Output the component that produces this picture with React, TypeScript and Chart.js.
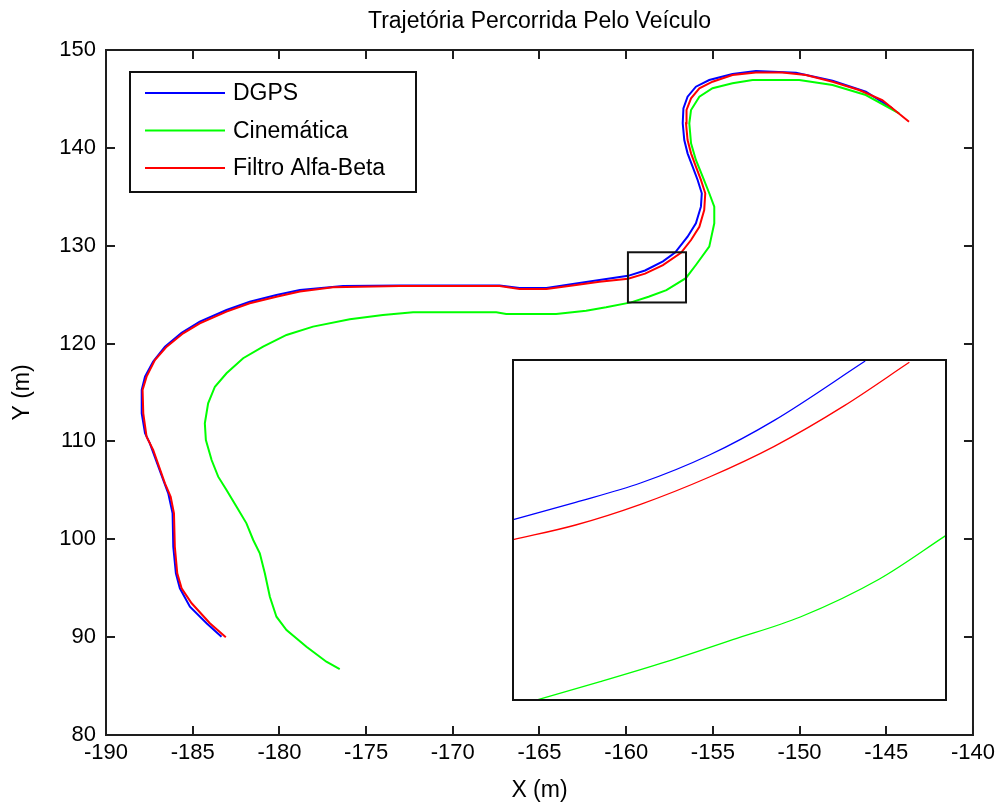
import React, { useEffect, useRef } from 'react';
import { Chart, registerables } from 'chart.js';

Chart.register(...registerables);

// ---------- data ----------
const chartTitle = 'Trajetória Percorrida Pelo Veículo';
const xAxisTitle = 'X (m)';
const yAxisTitle = 'Y (m)';
const seriesNames = ['DGPS', 'Cinemática', 'Filtro Alfa-Beta'];
const seriesColors = ['#0000ff', '#00ff00', '#ff0000'];

const xMin = -190;
const xMax = -140;
const xStep = 5;
const yMin = 80;
const yMax = 150;
const yStep = 10;

const dgpsX = [-183.34, -184.2, -185.16, -185.74, -185.97, -186.12, -186.16, -186.41, -186.7, -187.47, -187.75, -187.94, -187.94, -187.75, -187.28, -186.6, -185.64, -184.59, -183.05, -181.71, -180.17, -178.82, -176.33, -173.0, -170.0, -167.3, -166.15, -164.6, -162.89, -161.54, -159.89, -158.91, -157.88, -157.18, -156.46, -155.98, -155.69, -155.64, -155.88, -156.17, -156.46, -156.65, -156.74, -156.7, -156.46, -155.98, -155.21, -153.87, -152.52, -150.21, -148.1, -146.18, -144.65];
const dgpsY = [90.05, 91.42, 93.11, 94.99, 96.52, 99.24, 102.65, 104.7, 106.06, 109.81, 110.83, 112.87, 115.26, 116.62, 118.15, 119.68, 121.11, 122.24, 123.43, 124.28, 124.96, 125.48, 125.88, 125.93, 125.93, 125.93, 125.68, 125.68, 126.14, 126.5, 126.92, 127.47, 128.41, 129.3, 130.92, 132.29, 133.99, 135.36, 136.72, 138.08, 139.44, 140.8, 142.51, 144.04, 145.23, 146.25, 146.93, 147.55, 147.85, 147.68, 146.86, 145.74, 144.04];

const cinematicaX = [-176.52, -177.29, -178.44, -179.59, -180.17, -180.55, -180.84, -181.13, -181.51, -181.9, -182.47, -183.05, -183.53, -183.91, -184.24, -184.3, -184.11, -183.72, -183.05, -182.09, -180.94, -179.59, -178.06, -175.94, -174.03, -172.29, -167.49, -166.92, -164.04, -162.31, -161.16, -159.72, -158.71, -157.68, -156.56, -155.98, -155.21, -154.92, -154.92, -155.21, -155.59, -155.98, -156.26, -156.36, -156.26, -155.78, -155.02, -153.87, -152.71, -150.02, -148.1, -146.18, -144.26];
const cinematicaY = [86.72, 87.49, 89.02, 90.73, 92.09, 94.13, 96.52, 98.57, 99.93, 101.63, 103.33, 105.04, 106.4, 108.1, 110.15, 111.85, 113.9, 115.59, 116.96, 118.5, 119.68, 120.88, 121.73, 122.48, 122.92, 123.19, 123.19, 123.02, 123.02, 123.36, 123.71, 124.21, 124.79, 125.46, 126.68, 128.03, 129.9, 132.29, 133.99, 135.36, 137.05, 138.76, 140.47, 142.51, 143.87, 145.23, 146.09, 146.6, 146.93, 146.93, 146.42, 145.4, 143.53];

const filtroX = [-183.09, -184.01, -185.06, -185.64, -185.89, -186.03, -186.08, -186.27, -186.6, -187.28, -187.66, -187.85, -187.89, -187.66, -187.18, -186.5, -185.55, -184.59, -183.05, -181.71, -180.17, -178.82, -176.91, -173.06, -170.0, -167.3, -166.15, -164.6, -162.89, -161.54, -159.89, -158.91, -157.88, -156.84, -156.26, -155.78, -155.5, -155.44, -155.69, -155.98, -156.26, -156.46, -156.55, -156.52, -156.26, -155.78, -155.02, -153.87, -152.52, -150.99, -149.64, -148.1, -146.57, -145.23, -143.69];
const filtroY = [89.99, 91.42, 93.46, 94.99, 96.52, 99.24, 102.65, 104.35, 105.72, 109.13, 110.49, 112.87, 115.26, 116.62, 118.32, 119.68, 121.05, 122.07, 123.26, 124.12, 124.79, 125.31, 125.75, 125.88, 125.88, 125.88, 125.58, 125.58, 125.99, 126.32, 126.62, 127.15, 128.02, 129.28, 130.58, 131.94, 133.65, 135.36, 136.72, 138.08, 139.44, 140.8, 142.51, 143.87, 145.06, 146.09, 146.76, 147.45, 147.7, 147.7, 147.45, 146.76, 145.91, 144.89, 142.67];

// zoomed window (inset)
const zoomXRange = [-159.9, -156.55];
const zoomYRange = [124.2, 129.33];

const zoomDgpsX = [-159.89, -159.41, -158.91, -158.38, -157.88, -157.18];
const zoomDgpsY = [126.92, 127.18, 127.47, 127.89, 128.41, 129.3];
const zoomCinematicaX = [-159.72, -159.22, -158.71, -158.2, -157.68, -157.07, -156.56];
const zoomCinematicaY = [124.21, 124.49, 124.79, 125.12, 125.46, 126.03, 126.68];
const zoomFiltroX = [-159.89, -159.41, -158.91, -158.38, -157.88, -157.34, -156.84];
const zoomFiltroY = [126.62, 126.84, 127.15, 127.56, 128.02, 128.63, 129.28];

// ---------- helpers ----------
const FONT = '"Liberation Sans", Arial, Helvetica, sans-serif';
const pts = (xs: number[], ys: number[]) => xs.map((x, i) => ({ x, y: ys[i] }));

const frameAndTicksPlugin = {
  id: 'frameAndTicks',
  afterDraw(chart: any) {
    const { ctx, chartArea: a, scales } = chart;
    const xs = scales.x;
    const ys = scales.y;
    const tl = 9;
    ctx.save();
    ctx.strokeStyle = '#1e1e1e';
    ctx.lineWidth = 2;
    ctx.beginPath();
    xs.ticks.forEach((t: any) => {
      const px = Math.round(xs.getPixelForValue(t.value));
      ctx.moveTo(px, a.bottom);
      ctx.lineTo(px, a.bottom - tl);
      ctx.moveTo(px, a.top);
      ctx.lineTo(px, a.top + tl);
    });
    ys.ticks.forEach((t: any) => {
      const py = Math.round(ys.getPixelForValue(t.value));
      ctx.moveTo(a.left, py);
      ctx.lineTo(a.left + tl, py);
      ctx.moveTo(a.right, py);
      ctx.lineTo(a.right - tl, py);
    });
    ctx.stroke();
    ctx.strokeRect(a.left, a.top, a.right - a.left, a.bottom - a.top);

    // zoom rectangle
    const zx0 = xs.getPixelForValue(zoomXRange[0]);
    const zx1 = xs.getPixelForValue(zoomXRange[1]);
    const zy0 = ys.getPixelForValue(zoomYRange[1]);
    const zy1 = ys.getPixelForValue(zoomYRange[0]);
    ctx.strokeStyle = '#111';
    ctx.lineWidth = 2;
    ctx.strokeRect(zx0, zy0, zx1 - zx0, zy1 - zy0);

    // legend box
    const lx = a.left + 24;
    const ly = a.top + 22;
    const lw = 286;
    const lh = 120;
    ctx.fillStyle = '#ffffff';
    ctx.fillRect(lx, ly, lw, lh);
    ctx.strokeStyle = '#111';
    ctx.lineWidth = 2;
    ctx.strokeRect(lx, ly, lw, lh);
    ctx.font = `23px ${FONT}`;
    ctx.textBaseline = 'middle';
    ctx.textAlign = 'left';
    chart.data.datasets.forEach((ds: any, i: number) => {
      const y = ly + 21 + i * 37.5;
      ctx.strokeStyle = ds.borderColor;
      ctx.lineWidth = 2;
      ctx.beginPath();
      ctx.moveTo(lx + 15, y);
      ctx.lineTo(lx + 95, y);
      ctx.stroke();
      ctx.fillStyle = '#000';
      ctx.fillText(ds.label, lx + 103, y + 1);
    });
    ctx.restore();
  },
};

const insetFramePlugin = {
  id: 'insetFrame',
  beforeDraw(chart: any) {
    const { ctx, width, height } = chart;
    ctx.save();
    ctx.fillStyle = '#fff';
    ctx.fillRect(0, 0, width, height);
    ctx.restore();
  },
  afterDraw(chart: any) {
    const { ctx, width, height } = chart;
    ctx.save();
    ctx.strokeStyle = '#111';
    ctx.lineWidth = 2;
    ctx.strokeRect(1, 1, width - 2, height - 2);
    ctx.restore();
  },
};

export default function App() {
  const mainRef = useRef<HTMLCanvasElement | null>(null);
  const insetRef = useRef<HTMLCanvasElement | null>(null);

  useEffect(() => {
    document.body.style.margin = '0';
    const series = [pts(dgpsX, dgpsY), pts(cinematicaX, cinematicaY), pts(filtroX, filtroY)];
    const orders = [2, 1, 0];
    const main = new Chart(mainRef.current as HTMLCanvasElement, {
      type: 'scatter',
      data: {
        datasets: series.map((d, i) => ({
          label: seriesNames[i],
          data: d,
          showLine: true,
          borderColor: seriesColors[i],
          backgroundColor: seriesColors[i],
          borderWidth: 2,
          pointRadius: 0,
          tension: 0,
          order: orders[i],
        })),
      },
      options: {
        responsive: false,
        animation: false,
        layout: { padding: { left: 0, right: 26, top: 0, bottom: 0 }, autoPadding: false },
        plugins: {
          legend: { display: false },
          tooltip: { enabled: false },
          title: {
            display: true,
            text: chartTitle,
            fullSize: false,
            color: '#000',
            font: { family: FONT, size: 23, weight: 'normal', lineHeight: 1.2 },
            padding: { top: 8, bottom: 14.4 },
          },
        },
        scales: {
          x: {
            type: 'linear',
            min: xMin,
            max: xMax,
            ticks: { stepSize: xStep, color: '#000', font: { family: FONT, size: 22 }, padding: 5 },
            grid: { display: true, drawOnChartArea: false, drawTicks: false, color: 'rgba(0,0,0,0)' },
            border: { display: false },
            title: { display: true, text: xAxisTitle, color: '#000', font: { family: FONT, size: 23, lineHeight: 1.2 }, padding: { top: 0, bottom: 3 } },
            afterFit: (axis: any) => { axis.height = 72; },
          },
          y: {
            type: 'linear',
            min: yMin,
            max: yMax,
            ticks: { stepSize: yStep, color: '#000', font: { family: FONT, size: 22 }, padding: 10 },
            grid: { display: true, drawOnChartArea: false, drawTicks: false, color: 'rgba(0,0,0,0)' },
            border: { display: false },
            title: { display: true, text: yAxisTitle, color: '#000', font: { family: FONT, size: 23, lineHeight: 1.2 }, padding: { top: 9, bottom: 0 } },
            afterFit: (axis: any) => { axis.width = 106; },
          },
        },
      },
      plugins: [frameAndTicksPlugin],
    } as any);

    const zoomSeries = [pts(zoomDgpsX, zoomDgpsY), pts(zoomCinematicaX, zoomCinematicaY), pts(zoomFiltroX, zoomFiltroY)];
    const inset = new Chart(insetRef.current as HTMLCanvasElement, {
      type: 'scatter',
      data: {
        datasets: zoomSeries.map((d, i) => ({
          label: seriesNames[i],
          data: d,
          showLine: true,
          borderColor: seriesColors[i],
          borderWidth: 1.3,
          pointRadius: 0,
          cubicInterpolationMode: 'monotone',
        })),
      },
      options: {
        responsive: false,
        animation: false,
        layout: { padding: 0, autoPadding: false },
        plugins: { legend: { display: false }, tooltip: { enabled: false }, title: { display: false } },
        scales: {
          x: { type: 'linear', min: zoomXRange[0], max: zoomXRange[1], display: false },
          y: { type: 'linear', min: zoomYRange[0], max: zoomYRange[1], display: false },
        },
      },
      plugins: [insetFramePlugin],
    } as any);

    return () => {
      main.destroy();
      inset.destroy();
    };
  }, []);

  return (
    <div style={{ position: 'relative', width: 1000, height: 807, background: '#fff' }}>
      <canvas ref={mainRef} width={1000} height={807} style={{ position: 'absolute', left: 0, top: 0 }} />
      <canvas ref={insetRef} width={435} height={342} style={{ position: 'absolute', left: 512, top: 359 }} />
    </div>
  );
}
